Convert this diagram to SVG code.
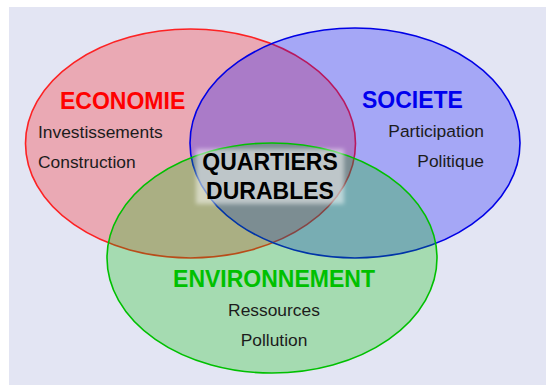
<svg xmlns="http://www.w3.org/2000/svg" width="547" height="385" viewBox="0 0 547 385">
  <defs>
    <filter id="blur" x="-20%" y="-40%" width="140%" height="180%">
      <feGaussianBlur stdDeviation="2"/>
    </filter>
    <style>
      .title { font-family: "Liberation Sans", Arial, sans-serif; font-weight: bold; font-size: 23px; }
      .item { font-family: "Liberation Sans", Arial, sans-serif; font-size: 17.4px; fill: #1c1c1c; }
      .ell { stroke-width: 1.6; }
    </style>
  </defs>
  <rect x="0" y="0" width="547" height="385" fill="#ffffff"/>
  <rect x="9" y="7" width="537" height="378" fill="#e3e5f3"/>

  <g id="economie">
    <ellipse class="ell" cx="190.5" cy="143.5" rx="165" ry="114.5" fill="#ff0000" fill-opacity="0.26" stroke="#ff1010" stroke-opacity="0.9"/>
  </g>
  <g id="societe">
    <ellipse class="ell" cx="355" cy="143" rx="165" ry="115" fill="#0000ff" fill-opacity="0.27" stroke="#0000e6"/>
  </g>
  <g id="environnement">
    <ellipse class="ell" cx="272" cy="258" rx="165" ry="115" fill="#00c000" fill-opacity="0.27" stroke="#00c000"/>
  </g>

  <g id="center">
    <rect x="196" y="149" width="148" height="55" fill="#ffffff" fill-opacity="0.5" filter="url(#blur)"/>
    <text class="title" x="270" y="170" text-anchor="middle" fill="#000000">QUARTIERS</text>
    <text class="title" x="270" y="199" text-anchor="middle" fill="#000000">DURABLES</text>
  </g>

  <g id="economie-labels">
    <text class="title" x="60" y="109" fill="#ff0000">ECONOMIE</text>
    <text class="item" x="38" y="138">Investissements</text>
    <text class="item" x="38" y="168">Construction</text>
  </g>
  <g id="societe-labels">
    <text class="title" x="362" y="108" fill="#0000ee">SOCIETE</text>
    <text class="item" x="484" y="137" text-anchor="end">Participation</text>
    <text class="item" x="484" y="167" text-anchor="end">Politique</text>
  </g>
  <g id="environnement-labels">
    <text class="title" x="274" y="287" text-anchor="middle" fill="#00c000">ENVIRONNEMENT</text>
    <text class="item" x="274" y="316" text-anchor="middle">Ressources</text>
    <text class="item" x="274" y="346" text-anchor="middle">Pollution</text>
  </g>
  <g id="connectors"/>
</svg>
